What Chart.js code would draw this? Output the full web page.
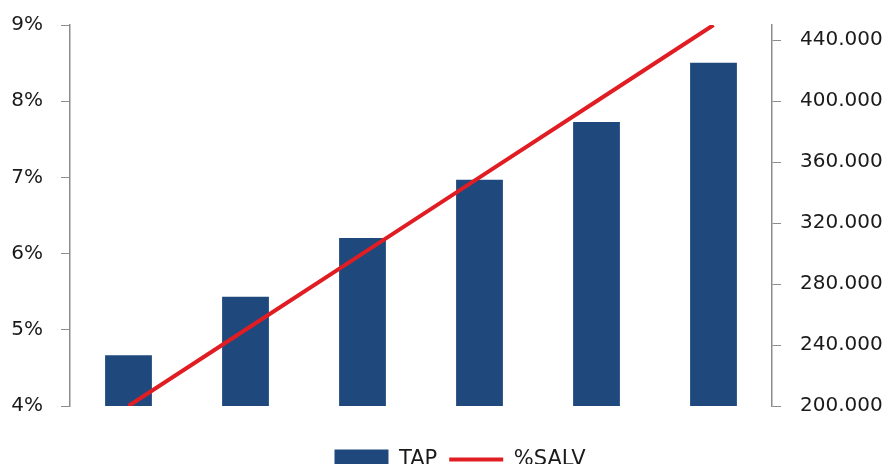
<!DOCTYPE html>
<html>
<head>
<meta charset="utf-8">
<script src="https://cdn.jsdelivr.net/npm/chart.js@4/dist/chart.umd.min.js"></script>
<style>
  html, body { margin: 0; padding: 0; background: #ffffff; overflow: hidden; }
  #wrap { width: 892px; height: 480px; position: relative; }
</style>
</head>
<body>
<div id="wrap"><canvas id="c"></canvas></div>
<script>
const categories = ['1', '2', '3', '4', '5', '6'];
const tapValues = [233300, 271700, 310300, 348400, 386300, 425300];
const salvValues = [0.04, 0.05, 0.06, 0.07, 0.08, 0.09];
const leftTicks = [0.04, 0.05, 0.06, 0.07, 0.08, 0.09];
const rightTicks = [200000, 240000, 280000, 320000, 360000, 400000, 440000];

const FONT = { family: 'DejaVu Sans', size: 20 };
const LEGEND_FONT = { family: 'DejaVu Sans', size: 21 };
const TEXT = '#1a1a1a';
const AXIS = '#8c8c8c';

const legendShift = {
  id: 'legendShift',
  afterLayout(chart) {
    if (chart.legend) { chart.legend.left += 14; chart.legend.right += 14; }
  }
};

const noScalePad = (s) => { s.paddingTop = 0; s.paddingBottom = 0; };

new Chart(document.getElementById('c'), {
  data: {
    labels: categories,
    datasets: [
      {
        type: 'line',
        label: '%SALV',
        data: salvValues,
        yAxisID: 'yL',
        borderColor: '#e11d24',
        backgroundColor: '#e11d24',
        borderWidth: 4,
        pointRadius: 0,
        pointStyle: 'line',
        tension: 0,
        order: 0
      },
      {
        type: 'bar',
        label: 'TAP',
        data: tapValues,
        yAxisID: 'yR',
        backgroundColor: '#1f497d',
        borderWidth: 0,
        pointStyle: 'rect',
        categoryPercentage: 1,
        barPercentage: 0.4,
        order: 1
      }
    ]
  },
  plugins: [legendShift],
  options: {
    responsive: true,
    maintainAspectRatio: false,
    animation: false,
    layout: { padding: { top: 25, left: 0, right: 0, bottom: 0 } },
    plugins: {
      tooltip: { enabled: false },
      legend: {
        position: 'bottom',
        reverse: true,
        labels: {
          usePointStyle: true,
          pointStyleWidth: 54,
          boxHeight: 20,
          padding: 12,
          color: TEXT,
          font: LEGEND_FONT
        }
      }
    },
    scales: {
      x: {
        display: true,
        offset: true,
        afterFit: (s) => { s.height = 31; },
        ticks: { display: false },
        grid: { display: false, drawTicks: false },
        border: { display: false }
      },
      yL: {
        position: 'left',
        min: 0.04,
        max: 0.09,
        afterBuildTicks: (s) => { s.ticks = leftTicks.map(v => ({ value: v })); },
        afterFit: (s) => { s.width = 70; noScalePad(s); },
        ticks: {
          padding: 18,
          color: TEXT,
          font: FONT,
          callback: (v) => Math.round(v * 100) + '%'
        },
        grid: { drawOnChartArea: false, drawTicks: true, tickLength: 9, color: AXIS },
        border: { display: true, color: AXIS, width: 1.5 }
      },
      yR: {
        position: 'right',
        min: 200000,
        max: 450000,
        afterBuildTicks: (s) => { s.ticks = rightTicks.map(v => ({ value: v })); },
        afterFit: (s) => { s.width = 120; noScalePad(s); },
        ticks: {
          padding: 19,
          color: TEXT,
          font: FONT,
          callback: (v) => (v / 1000).toFixed(0) + '.000'
        },
        grid: { drawOnChartArea: false, drawTicks: true, tickLength: 9, color: AXIS },
        border: { display: true, color: AXIS, width: 1.5 }
      }
    }
  }
});
</script>
</body>
</html>
